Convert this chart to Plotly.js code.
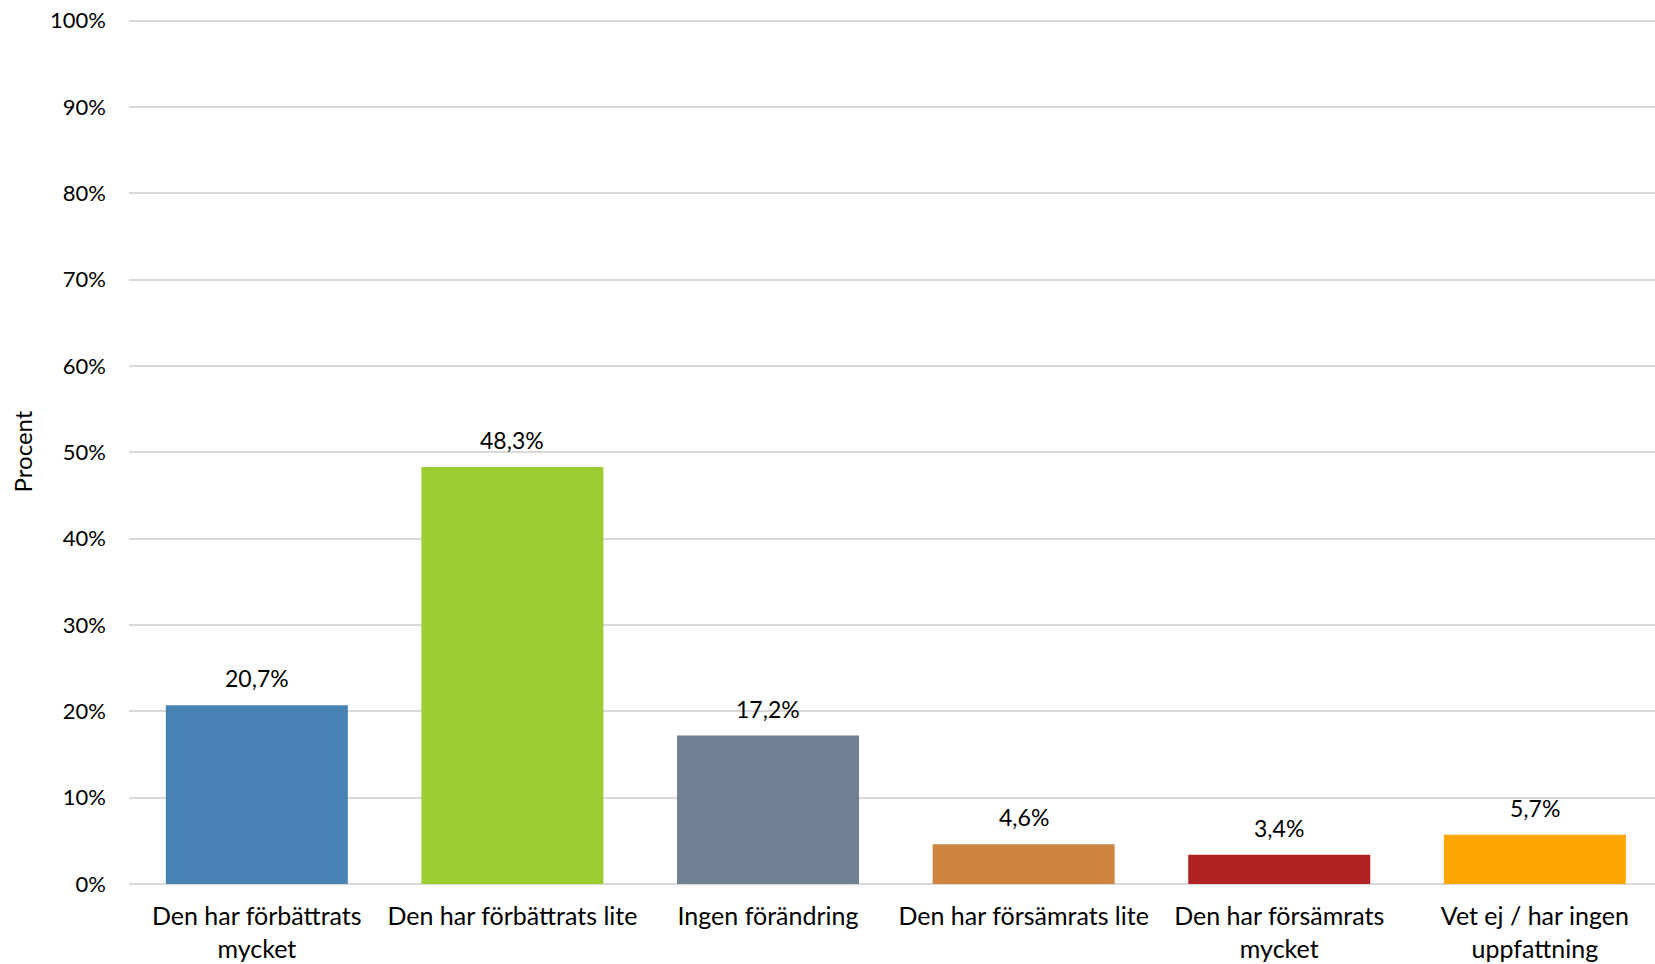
<!DOCTYPE html>
<html>
<head>
<meta charset="utf-8">
<script src="https://cdn.plot.ly/plotly-3.0.1.min.js"></script>
<style>
  html, body { margin: 0; padding: 0; overflow: hidden; background: #fff; }
</style>
</head>
<body>
<div id="chart" style="width:1655px;height:964px;"></div>
<script>
var categories = [
  'Den har förbättrats<br>mycket',
  'Den har förbättrats lite',
  'Ingen förändring',
  'Den har försämrats lite',
  'Den har försämrats<br>mycket',
  'Vet ej / har ingen<br>uppfattning'
];
var values = [0.207, 0.483, 0.172, 0.046, 0.034, 0.057];
var colours = ['#4682B4', '#9ACD32', '#708090', '#CD853F', '#B22222', '#FFA500'];

var font = 'Lato, "Open Sans", sans-serif';

var bars = {
  x: categories,
  y: values,
  type: 'bar',
  marker: {color: colours},
  hoverinfo: 'none'
};

// value labels above each bar
var labels = values.map(function (v, i) {
  return {
    x: categories[i],
    y: v,
    xref: 'x',
    yref: 'y',
    text: (v * 100).toFixed(1).replace('.', ',') + '%',
    showarrow: false,
    yanchor: 'bottom',
    yshift: 11,
    font: {family: font, size: 23, color: '#000'}
  };
});

var layout = {
  width: 1655,
  height: 964,
  margin: {l: 129, r: 0, t: 19, b: 80},
  paper_bgcolor: '#fff',
  plot_bgcolor: '#fff',
  font: {family: font, size: 22, color: '#000'},
  separators: ',.',
  showlegend: false,
  bargap: 0.288,
  xaxis: {
    range: [-0.5, 5.47],
    showgrid: false,
    showline: false,
    zeroline: false,
    ticks: '',
    ticklabelstandoff: 15,
    tickfont: {family: font, size: 25, color: '#000'}
  },
  yaxis: {
    range: [0, 1.002],
    tickvals: [0, 0.1, 0.2, 0.3, 0.4, 0.5, 0.6, 0.7, 0.8, 0.9, 1],
    tickformat: '.0%',
    showgrid: true,
    gridcolor: '#d9d9d9',
    gridwidth: 2,
    zeroline: true,
    zerolinecolor: '#d9d9d9',
    zerolinewidth: 2,
    showline: false,
    ticks: '',
    ticklabelstandoff: 22,
    tickfont: {family: font, size: 22, color: '#000'},
    title: {text: 'Procent', standoff: 10, font: {family: font, size: 24, color: '#000'}}
  },
  annotations: labels
};

Plotly.newPlot('chart', [bars], layout, {displayModeBar: false, staticPlot: true});
</script>
</body>
</html>
